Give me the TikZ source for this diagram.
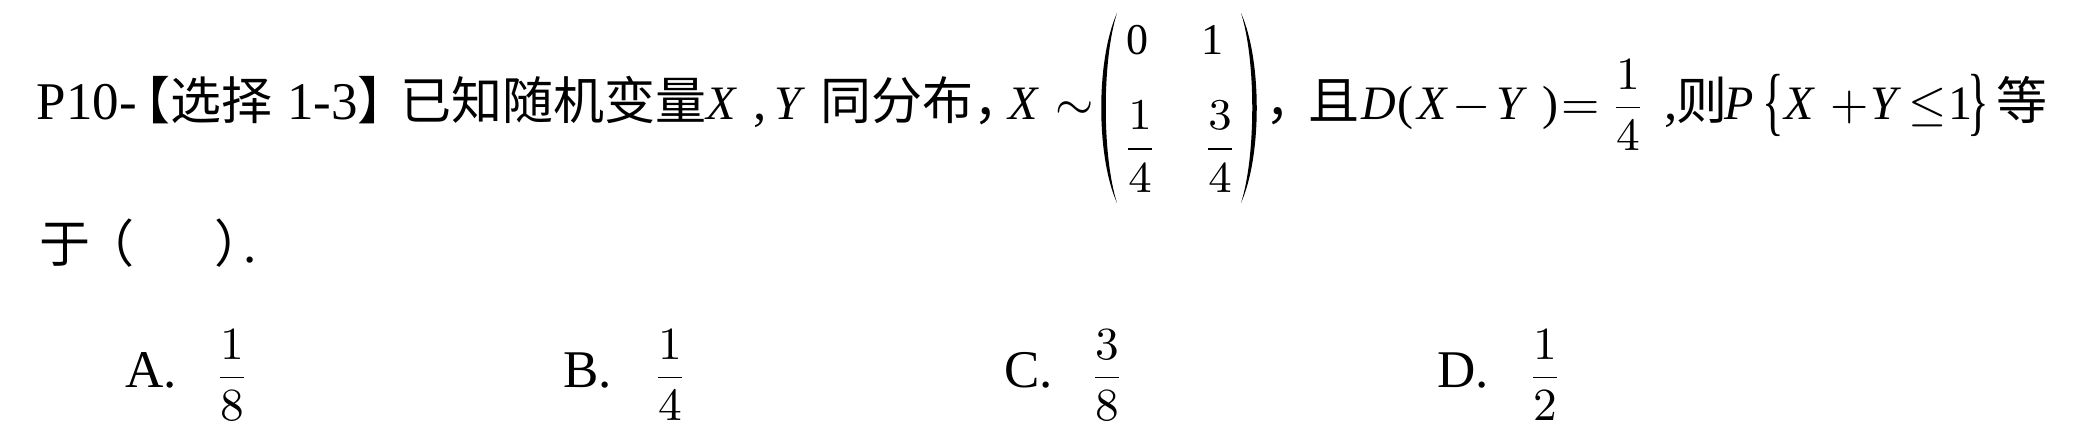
\RequirePackage{fix-cm}
\documentclass[tikz,border=0pt]{standalone}
\usepackage{amsmath}
\usepackage{graphicx}
\usepackage{fontspec}
\setmainfont{Liberation Serif}
\newfontfamily\cjk{Noto Sans CJK SC}
\usetikzlibrary{positioning}

\newcommand{\fr}[2]{\dfrac{#1}{#2}}
\tikzset{
  every node/.style={inner sep=0pt,outer sep=0pt,anchor=base west,
    font=\fontsize{10.6}{12}\selectfont},
  zh/.style={font=\fontsize{10.2}{12}\selectfont\cjk},
  mth/.style={font=\fontsize{9.6}{12}\selectfont},
  frc/.style={anchor=base,font=\fontsize{9.2}{12}\selectfont},
  mid/.style={anchor=base,font=\fontsize{8.8}{12}\selectfont},
  delim/.style={anchor=center},
}

\begin{document}
\begin{tikzpicture}[x=0.2pt,y=-0.2pt]
  \useasboundingbox (0,0) rectangle (2081,448);
  % first line
  \node (p10) at (37,120) {P10-};
  \node[zh] (lbr) at (120,120) {【};
  \node[zh] (sel) at (170,120) {选择};
  \node (sec) at (287,120) {1-3};
  \node[zh] (rbr) at (357,120) {】};
  \node[zh] (known) at (400,120) {已知随机变量};
  \node[mth] (x1) at (706,120) {$\mathit{X}$};
  \node (cm1) at (753,120) {,};
  \node[mth] (y1) at (774,120) {$\mathit{Y}$};
  \node[zh] (same) at (820,120) {同分布，};
  \node[mth] (x2) at (1008,120) {$\mathit{X}$};
  \node[mth] (sim) at (1055,120) {$\sim$};
  % matrix
  \fill (1117,13) .. controls (1096,60) and (1096,156) .. (1117,203)
    .. controls (1102,156) and (1102,60) .. (1117,13) -- cycle;
  \node[mid] (a11) at (1137,55) {0};
  \node[mid] (a12) at (1212,55) {1};
  \node[mid] (a21) at (1140,160) {$\fr{1}{4}$};
  \node[mid] (a22) at (1220,160) {$\fr{3}{4}$};
  \fill (1241,13) .. controls (1262,60) and (1262,156) .. (1241,203)
    .. controls (1256,156) and (1256,60) .. (1241,13) -- cycle;
  \node[zh] (cm2) at (1265,120) {，};
  % D(X-Y)=1/4
  \node[zh] (and) at (1308,120) {且};
  \node[mth] (d) at (1361,120) {$\mathit{D}$};
  \node[mth] (lp) at (1397,120) {(};
  \node[mth] (x3) at (1417,120) {$\mathit{X}$};
  \node[mth] (minus) at (1452,120) {$-$};
  \node[mth] (y3) at (1496,120) {$\mathit{Y}$};
  \node[mth] (rp) at (1542,120) {)};
  \node[mth] (eq) at (1561,120) {$=$};
  \node[frc] (q) at (1628,119) {$\fr{1}{4}$};
  \node (cm3) at (1664,120) {,};
  \node[zh] (then) at (1676,120) {则};
  % P{X+Y<=1}
  \node[mth] (pp) at (1724,120) {$\mathit{P}$};
  \node[delim] (lbc) at (1773,105) {\scalebox{0.85}[1.42]{\{}};
  \node[mth] (x4) at (1784,120) {$\mathit{X}$};
  \node[mth] (plus) at (1830,120) {$+$};
  \node[mth] (y4) at (1870,120) {$\mathit{Y}$};
  \node[mth] (leq) at (1908,120) {$\leq$};
  \node[mth] (one) at (1948,120) {1};
  \node[delim] (rbc) at (1978,105) {\scalebox{0.85}[1.42]{\}}};
  \node[zh] (deng) at (1996,120) {等};
  % second line
  \node[zh] (yu) at (40,263) {于};
  \node[zh] (lpr) at (84,263) {（};
  \node[zh] (rpr) at (214,263) {）};
  \node (stop) at (243,263) {.};
  % options
  \node (oa) at (125,388) {A.};
  \node[frc] (fa) at (232,389) {$\fr{1}{8}$};
  \node (ob) at (563,388) {B.};
  \node[frc] (fb) at (670,389) {$\fr{1}{4}$};
  \node (oc) at (1004,388) {C.};
  \node[frc] (fc) at (1107,389) {$\fr{3}{8}$};
  \node (od) at (1437,388) {D.};
  \node[frc] (fd) at (1545,389) {$\fr{1}{2}$};
\end{tikzpicture}
\end{document}
